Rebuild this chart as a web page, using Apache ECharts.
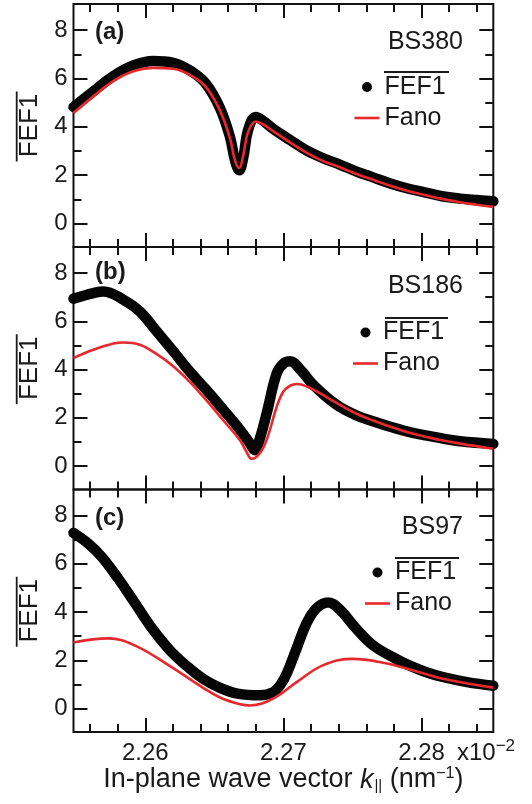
<!DOCTYPE html>
<html><head><meta charset="utf-8">
<script src="https://cdn.jsdelivr.net/npm/echarts@6/dist/echarts.min.js"></script>
<style>html,body{margin:0;padding:0;background:#fff}#c{width:532px;height:804px}</style>
</head><body><div id="c"></div>
<script>
// ---- data ----
const xMin = 2.2548, xMax = 2.2852;
const yMin = -0.97, yMax = 9.08;
const xTickMajor = [2.26, 2.27, 2.28];
const xTickMinor = [2.256, 2.258, 2.26, 2.262, 2.264, 2.266, 2.268, 2.27, 2.272, 2.274, 2.276, 2.278, 2.28, 2.282, 2.284];
const yTickMajor = [0, 2, 4, 6, 8];
const yTickMinor = [1, 3, 5, 7];
const panelNames = ['BS380', 'BS186', 'BS97'];
const panelLetters = ['(a)', '(b)', '(c)'];

const aFefX = [2.2548, 2.25624, 2.25768, 2.25913, 2.26058, 2.26202, 2.26347, 2.26443, 2.2654, 2.26612, 2.2665, 2.2668, 2.2671, 2.26745, 2.268, 2.2686, 2.26925, 2.2705, 2.2716, 2.2728, 2.27408, 2.2753, 2.27654, 2.2778, 2.279, 2.2803, 2.28147, 2.2828, 2.284, 2.2852];
const aFefY = [4.82, 5.47, 6.1, 6.54, 6.72, 6.65, 6.24, 5.75, 4.78, 3.6, 2.6, 2.2, 2.75, 3.88, 4.41, 4.22, 3.92, 3.45, 3.05, 2.72, 2.44, 2.15, 1.9, 1.65, 1.45, 1.28, 1.13, 1.03, 0.97, 0.92];
const aFanoX = [2.2548, 2.25624, 2.25768, 2.25913, 2.26058, 2.26202, 2.26347, 2.26443, 2.2654, 2.26612, 2.2665, 2.2668, 2.2671, 2.26745, 2.268, 2.2686, 2.26925, 2.2705, 2.2716, 2.2728, 2.27408, 2.2753, 2.27654, 2.2778, 2.279, 2.2803, 2.28147, 2.2828, 2.284, 2.2852];
const aFanoY = [4.57, 5.26, 5.89, 6.3, 6.44, 6.4, 6.07, 5.62, 4.68, 3.55, 2.6, 2.3, 2.85, 3.8, 4.22, 4.08, 3.82, 3.35, 2.95, 2.6, 2.33, 2.05, 1.8, 1.55, 1.35, 1.17, 1.02, 0.88, 0.78, 0.69];

const bFefX = [2.2548, 2.25624, 2.25696, 2.2584, 2.2596, 2.2608, 2.262, 2.2632, 2.26443, 2.26564, 2.26684, 2.2675, 2.26795, 2.2683, 2.26879, 2.26952, 2.27, 2.27048, 2.2713, 2.27216, 2.27385, 2.2753, 2.27654, 2.2778, 2.279, 2.2803, 2.28147, 2.2828, 2.2852];
const bFefY = [6.94, 7.17, 7.24, 6.9, 6.41, 5.6, 4.78, 3.93, 3.15, 2.34, 1.52, 1.0, 0.66, 1.15, 2.19, 3.85, 4.25, 4.34, 3.95, 3.37, 2.54, 2.1, 1.85, 1.62, 1.43, 1.27, 1.15, 1.03, 0.92];
const bFanoX = [2.2548, 2.25624, 2.2577, 2.2584, 2.2596, 2.2608, 2.262, 2.2632, 2.26443, 2.26564, 2.26684, 2.2673, 2.26771, 2.26825, 2.26879, 2.26952, 2.27, 2.27048, 2.27096, 2.27169, 2.27264, 2.27385, 2.2753, 2.27654, 2.2778, 2.279, 2.2803, 2.28147, 2.2828, 2.2852];
const bFanoY = [4.48, 4.82, 5.08, 5.12, 5.03, 4.65, 4.15, 3.5, 2.72, 1.9, 1.08, 0.62, 0.3, 0.5, 1.09, 2.47, 3.09, 3.33, 3.4, 3.3, 3.02, 2.62, 2.17, 1.88, 1.62, 1.4, 1.22, 1.07, 0.93, 0.72];

const cFefX = [2.2548, 2.25584, 2.25683, 2.25806, 2.2593, 2.26052, 2.26176, 2.26299, 2.26422, 2.26545, 2.26668, 2.2683, 2.26927, 2.2698, 2.27024, 2.27096, 2.27169, 2.27241, 2.27325, 2.27409, 2.2753, 2.2765, 2.27819, 2.27915, 2.2803, 2.28147, 2.2833, 2.2852];
const cFefY = [7.28, 6.85, 6.3, 5.37, 4.33, 3.3, 2.43, 1.77, 1.22, 0.85, 0.62, 0.55, 0.68, 1.0, 1.45, 2.5, 3.55, 4.17, 4.4, 4.1, 3.3, 2.62, 2.05, 1.78, 1.52, 1.32, 1.1, 0.95];
const cFanoX = [2.2548, 2.25732, 2.2593, 2.26176, 2.26422, 2.26545, 2.26686, 2.26758, 2.26927, 2.27096, 2.27289, 2.27505, 2.27722, 2.27915, 2.28147, 2.2852];
const cFanoY = [2.74, 2.91, 2.6, 1.77, 0.85, 0.45, 0.18, 0.13, 0.42, 1.1, 1.8, 2.06, 1.9, 1.62, 1.25, 0.87];

// ---- build ----
const FONT = 'Liberation Sans, Arial, Helvetica, sans-serif';
const TXT = '#1a1a1a';
const FRAME = '#111';
const BLACK = '#050505';
const RED = '#e8282c';
const zip = (xs, ys) => xs.map((x, i) => [x, ys[i]]);
const fefSets = [zip(aFefX, aFefY), zip(bFefX, bFefY), zip(cFefX, cFefY)];
const fanoSets = [zip(aFanoX, aFanoY), zip(bFanoX, bFanoY), zip(cFanoX, cFanoY)];

const gridTops = [4, 247, 489.5];
const gridHeights = [243, 242.5, 242.5];
const gridLeft = 73.5, gridRight = 38.7;

const grids = [], xAxes = [], yAxes = [], series = [], legends = [], graphics = [];
const tickStyle = { color: FRAME, width: 2 };

function xAx(i, pos, major, extra) {
  return Object.assign({
    gridIndex: i, type: 'value', min: xMin, max: xMax, position: pos,
    axisLine: { show: false, onZero: false },
    axisTick: { show: true, inside: true, length: major ? 14 : 8, customValues: major ? xTickMajor : xTickMinor, lineStyle: tickStyle },
    axisLabel: { show: false },
    splitLine: { show: false }
  }, extra || {});
}
function yAx(i, pos, major, extra) {
  return Object.assign({
    gridIndex: i, type: 'value', min: yMin, max: yMax, position: pos,
    axisLine: { show: false, onZero: false },
    axisTick: { show: true, inside: true, length: major ? 14 : 8, customValues: major ? yTickMajor : yTickMinor, lineStyle: tickStyle },
    axisLabel: { show: false },
    splitLine: { show: false }
  }, extra || {});
}

const legendLeft = [354.5, 353, 365];
const legendTop = [74.5, 320, 560];
const overlineY = [72, 318, 558];
const overlineX = [[384, 449], [385, 448], [395, 459]];
const letterY = [32, 272, 518];
const nameY = [42, 286, 527];

for (let i = 0; i < 3; i++) {
  grids.push({ left: gridLeft, right: gridRight, top: gridTops[i], height: gridHeights[i],
    show: true, borderColor: FRAME, borderWidth: 2, backgroundColor: 'transparent' });
  const bottomMajorExtra = (i === 2) ? {
    axisLabel: { show: true, customValues: xTickMajor, formatter: v => v.toFixed(2), fontSize: 24, margin: 9, color: TXT, fontFamily: FONT },
    name: '{n|In-plane wave vector }{i|k}{sub|||}{n| (nm}{sup|−1}{n|)}',
    nameLocation: 'middle', nameGap: 34,
    nameTextStyle: { color: TXT, fontFamily: FONT, fontSize: 27,
      rich: {
        n: { fontSize: 27, fontFamily: FONT, color: TXT },
        i: { fontSize: 27, fontFamily: FONT, color: TXT, fontStyle: 'italic' },
        sub: { fontSize: 15, fontFamily: FONT, color: TXT, padding: [12, 0, 0, 1] },
        sup: { fontSize: 16, fontFamily: FONT, color: TXT, padding: [0, 0, 12, 0] }
      } }
  } : {};
  xAxes.push(xAx(i, 'bottom', true, bottomMajorExtra));
  xAxes.push(xAx(i, 'bottom', false));
  xAxes.push(xAx(i, 'top', true));
  xAxes.push(xAx(i, 'top', false));

  yAxes.push(yAx(i, 'left', true, {
    axisLabel: { show: true, customValues: yTickMajor, fontSize: 24, margin: 6, color: TXT, fontFamily: FONT },
    name: 'FEF1', nameLocation: 'middle', nameRotate: 90, nameGap: 27,
    nameTextStyle: { fontSize: 26, color: TXT, fontFamily: FONT }
  }));
  yAxes.push(yAx(i, 'left', false));
  yAxes.push(yAx(i, 'right', true));
  yAxes.push(yAx(i, 'right', false));

  series.push({
    name: 'FEF1', type: 'line', xAxisIndex: 4 * i, yAxisIndex: 4 * i,
    data: fefSets[i], symbol: 'none', showSymbol: false, smooth: 0.4, z: 3,
    lineStyle: { color: BLACK, width: 10.5, cap: 'round', join: 'round' },
    itemStyle: { color: BLACK }
  });
  series.push({
    name: 'Fano', type: 'line', xAxisIndex: 4 * i, yAxisIndex: 4 * i,
    data: fanoSets[i], symbol: 'none', showSymbol: false, smooth: 0.4, z: 4,
    lineStyle: { color: RED, width: 2.6 },
    itemStyle: { color: RED }
  });

  legends.push({
    orient: 'vertical', left: legendLeft[i], top: legendTop[i],
    itemWidth: 25, itemHeight: 10, itemGap: 6, selectedMode: false, padding: 0,
    symbolKeepAspect: true,
    itemStyle: { borderWidth: 0 },
    textStyle: { fontSize: 25, color: TXT, fontFamily: FONT, lineHeight: 25 },
    data: [
      { name: 'FEF1', icon: 'circle', itemStyle: { color: BLACK, borderWidth: 0 } },
      { name: 'Fano', icon: 'path://M0,0H25V2.6H0Z', itemStyle: { color: RED, borderWidth: 0 } }
    ]
  });

  // overline over legend text and over the y-axis title
  graphics.push({ type: 'line', shape: { x1: overlineX[i][0], y1: overlineY[i], x2: overlineX[i][1], y2: overlineY[i] },
    style: { stroke: TXT, lineWidth: 1.8 } });
  const cy = gridTops[i] + gridHeights[i] / 2 + 1;
  graphics.push({ type: 'line', shape: { x1: 16.7, y1: cy - 35, x2: 16.7, y2: cy + 35 },
    style: { stroke: TXT, lineWidth: 1.8 } });
  graphics.push({ type: 'text', x: 95, y: letterY[i],
    style: { text: panelLetters[i], font: 'bold 24px ' + FONT, fill: TXT, textAlign: 'left', textVerticalAlign: 'middle' } });
  graphics.push({ type: 'text', x: 463, y: nameY[i],
    style: { text: panelNames[i], font: '25px ' + FONT, fill: TXT, textAlign: 'right', textVerticalAlign: 'middle' } });
}

graphics.push({ type: 'text', x: 457, y: 753,
  style: { text: '{n|x10}{s|−2}', fill: TXT, textAlign: 'left', textVerticalAlign: 'middle',
    rich: { n: { fontSize: 24, fontFamily: FONT, fill: TXT }, s: { fontSize: 17, fontFamily: FONT, fill: TXT, padding: [0, 0, 14, 0] } } } });

const chart = echarts.init(document.getElementById('c'), null, { renderer: 'canvas' });
chart.setOption({
  animation: false,
  backgroundColor: '#fff',
  grid: grids, xAxis: xAxes, yAxis: yAxes, series: series, legend: legends,
  graphic: graphics
});
</script></body></html>
